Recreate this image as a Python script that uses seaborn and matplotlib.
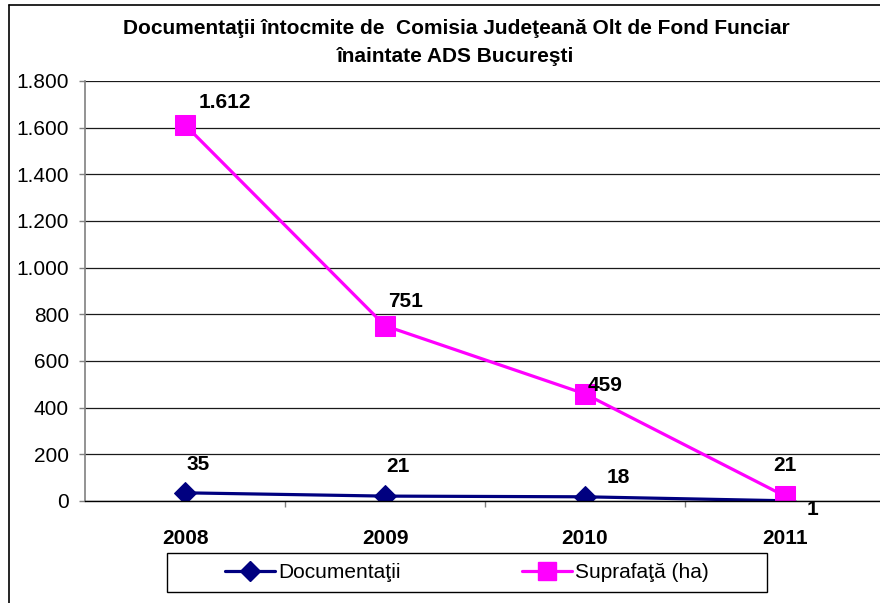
import matplotlib
matplotlib.use("Agg")
import matplotlib.pyplot as plt
import seaborn as sns
import pandas as pd
from matplotlib.lines import Line2D
from matplotlib.patches import Rectangle
from matplotlib.ticker import FuncFormatter, FixedLocator

years = ["2008", "2009", "2010", "2011"]
documentatii = [35, 21, 18, 1]
suprafata = [1612, 751, 459, 21]
series_names = ["Documentaţii", "Suprafaţă (ha)"]
title = "Documentaţii întocmite de  Comisia Judeţeană Olt de Fond Funciar\nînaintate ADS Bucureşti"

sns.set_style("white")
plt.rcParams["font.family"] = ["Liberation Sans", "DejaVu Sans"]
plt.rcParams["text.color"] = "black"
plt.rcParams["xtick.color"] = "black"
plt.rcParams["ytick.color"] = "black"
plt.rcParams["axes.labelcolor"] = "black"

df = pd.DataFrame({
    "year": years * 2,
    "value": documentatii + suprafata,
    "series": [series_names[0]] * 4 + [series_names[1]] * 4,
})

fig = plt.figure(figsize=(8.8, 6.03), dpi=100)
ax = fig.add_axes([85 / 880, 1 - 501 / 603, 800 / 880, 420 / 603])

colors = {series_names[0]: "#000080", series_names[1]: "#FF00FF"}
markers = {series_names[0]: "D", series_names[1]: "s"}
sizes_ms = {series_names[0]: 11, series_names[1]: 14}

for name in series_names:
    sub = df[df["series"] == name]
    sns.lineplot(data=sub, x="year", y="value", ax=ax, color=colors[name],
                 marker=markers[name], markersize=sizes_ms[name], linewidth=2.3,
                 markeredgecolor=colors[name], label=name, legend=False, sort=False)

ax.set_xlim(-0.5, 3.5)
ax.set_ylim(0, 1800)
ax.yaxis.set_major_locator(FixedLocator(range(0, 1801, 200)))
ax.yaxis.set_major_formatter(FuncFormatter(lambda v, p: f"{int(v):,}".replace(",", ".")))
ax.grid(axis="y", color="#1a1a1a", linewidth=0.9)
ax.set_axisbelow(True)
ax.set_xlabel("")
ax.set_ylabel("")

for s in ["top", "right"]:
    ax.spines[s].set_visible(False)
ax.spines["left"].set_color("#808080")
ax.spines["left"].set_linewidth(1.2)
ax.spines["bottom"].set_color("#000000")
ax.spines["bottom"].set_linewidth(1)

ax.tick_params(axis="y", which="major", left=True, length=4.5, width=1, color="#808080",
               labelsize=15, pad=7)
ax.set_xticks(range(4))
ax.set_xticklabels(years, fontweight="bold", fontsize=15)
ax.tick_params(axis="x", which="major", bottom=False, pad=17)
ax.set_xticks([0.5, 1.5, 2.5], minor=True)
ax.tick_params(axis="x", which="minor", bottom=True, length=4.5, width=1, color="#808080")

# data labels
doc_offsets = [(13, 28), (13, 30), (33, 19), (27, -9)]
sup_offsets = [(40, 22), (21, 24), (20, 8), (0, 31)]
for i, y in enumerate(documentatii):
    ax.annotate(str(y), (i, y), xytext=doc_offsets[i], textcoords="offset pixels",
                ha="center", va="center", fontsize=15, fontweight="bold")
for i, y in enumerate(suprafata):
    ax.annotate(f"{y:,}".replace(",", "."), (i, y), xytext=sup_offsets[i], textcoords="offset pixels",
                ha="center", va="center", fontsize=15, fontweight="bold")

fig.text(456 / 880, 1 - 42 / 603, title, ha="center", va="center", fontsize=15,
         fontweight="bold", linespacing=1.6)

handles = [Line2D([0], [0], color=colors[n], marker=markers[n], markersize=sizes_ms[n] * 0.9,
                  linewidth=2.3) for n in series_names]
leg = fig.legend(handles, series_names, loc="center", bbox_to_anchor=(467 / 880, 1 - 572.5 / 603),
                 ncol=2, fontsize=15, frameon=False,
                 columnspacing=5.8, handlelength=2.4, handletextpad=0.15, borderpad=0.35)
fig.add_artist(Rectangle((167 / 880, 1 - 592 / 603), 600 / 880, 39 / 603, fill=False,
                         edgecolor="black", linewidth=1, transform=fig.transFigure))

# outer frame (cropped at right and bottom)
fig.add_artist(Line2D([9 / 880, 9 / 880], [0, 1 - 5 / 603], color="black", linewidth=1.2,
                      transform=fig.transFigure))
fig.add_artist(Line2D([9 / 880, 1], [1 - 5 / 603, 1 - 5 / 603], color="black", linewidth=1.2,
                      transform=fig.transFigure))

fig.savefig("out.png", dpi=100)
